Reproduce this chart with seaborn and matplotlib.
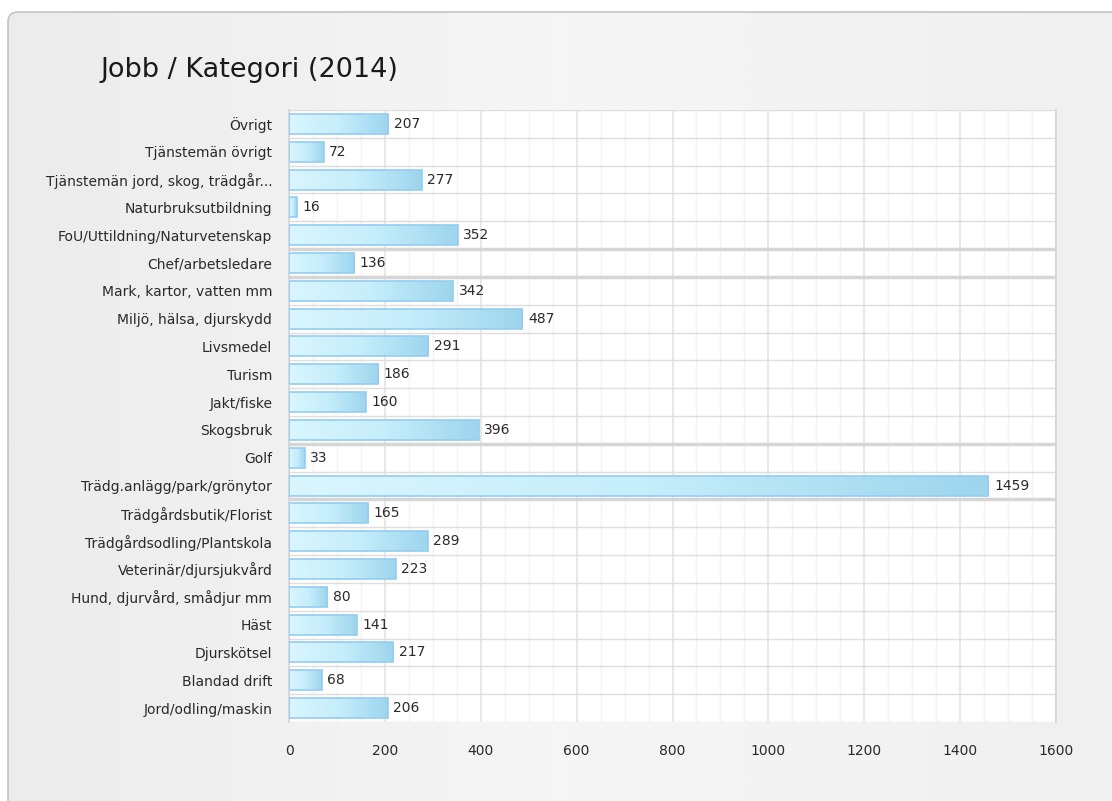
import numpy as np
import pandas as pd
import seaborn as sns
import matplotlib.pyplot as plt
from matplotlib.colors import LinearSegmentedColormap
from matplotlib.patches import FancyBboxPatch
from matplotlib.ticker import MultipleLocator

categories = [
    "Övrigt", "Tjänstemän övrigt", "Tjänstemän jord, skog, trädgår...",
    "Naturbruksutbildning", "FoU/Uttildning/Naturvetenskap", "Chef/arbetsledare",
    "Mark, kartor, vatten mm", "Miljö, hälsa, djurskydd", "Livsmedel", "Turism",
    "Jakt/fiske", "Skogsbruk", "Golf", "Trädg.anlägg/park/grönytor",
    "Trädgårdsbutik/Florist", "Trädgårdsodling/Plantskola", "Veterinär/djursjukvård",
    "Hund, djurvård, smådjur mm", "Häst", "Djurskötsel", "Blandad drift",
    "Jord/odling/maskin",
]
jobs = [207, 72, 277, 16, 352, 136, 342, 487, 291, 186, 160, 396, 33, 1459,
        165, 289, 223, 80, 141, 217, 68, 206]
x_ticks = [0, 200, 400, 600, 800, 1000, 1200, 1400, 1600]

df = pd.DataFrame({"Kategori": categories, "Antal": jobs})

sns.set_style("white")
plt.rcParams["font.family"] = ["DejaVu Sans"]

fig = plt.figure(figsize=(11.12, 8.01), dpi=100)
W, H = 1112, 801

# panel background with soft horizontal gradient
bg = fig.add_axes([0, 0, 1, 1], zorder=-10)
bg.set_axis_off()
bg.set_xlim(0, W)
bg.set_ylim(H, 0)
panel = FancyBboxPatch((8, 12), W + 20, H + 20, boxstyle="round,pad=0,rounding_size=10",
                       facecolor="none", edgecolor="#c4c4c4", linewidth=1.2)
bg.add_patch(panel)
grad = np.concatenate([np.linspace(0, 1, 300), np.linspace(1, 0.4, 300)])[None, :]
bg_cmap = LinearSegmentedColormap.from_list("bg", ["#ececec", "#f6f6f6"])
im = bg.imshow(grad, extent=[8, W, H, 12], aspect="auto", cmap=bg_cmap, zorder=0)
im.set_clip_path(panel)

fig.text(100 / W, 1 - 70 / H, "Jobb / Kategori (2014)", fontsize=19.5, color="#1a1a1a",
         va="center", ha="left")

ax = fig.add_axes([289 / W, 1 - 722 / H, (1056 - 289) / W, (722 - 110) / H])
ax.set_facecolor("white")
sns.barplot(data=df, x="Antal", y="Kategori", ax=ax, width=0.72,
            facecolor="none", edgecolor="#94cdf0", linewidth=1.2, zorder=3)

bar_cmap = LinearSegmentedColormap.from_list("bar", ["#d9f6fe", "#c6eefb", "#9dd5ed"])
gvals = np.linspace(0, 1, 256)[None, :]
for p in ax.patches:
    x0, y0, w, h = p.get_x(), p.get_y(), p.get_width(), p.get_height()
    g = ax.imshow(gvals, extent=[x0, x0 + w, y0 + h, y0], aspect="auto",
                  cmap=bar_cmap, zorder=2, interpolation="bilinear")
    g.set_clip_path(p)

ax.bar_label(ax.containers[0], padding=4, fontsize=10, color="#2a2a2a")

ax.set_xlim(0, 1600)
ax.set_ylim(len(categories) - 0.5, -0.5)
ax.set_xticks(x_ticks)
ax.xaxis.set_minor_locator(MultipleLocator(50))
ax.set_yticks(range(len(categories)))
ax.set_yticks(np.arange(len(categories) + 1) - 0.5, minor=True)

ax.grid(axis="x", which="major", color="#e6e6e6", linewidth=1.3, zorder=0)
ax.grid(axis="x", which="minor", color="#f3f3f3", linewidth=1.0, zorder=0)
ax.grid(axis="y", which="minor", color="#dedede", linewidth=1.0, zorder=0)
ax.set_axisbelow(True)
for b in [4.5, 5.5, 11.5, 13.5]:
    ax.axhline(b, color="#d6d6d6", linewidth=2.5, zorder=1)

ax.tick_params(axis="x", which="major", length=8, width=1, color="#c8c8c8",
               labelsize=10, labelcolor="#2a2a2a", pad=8)
ax.tick_params(axis="x", which="minor", length=5, width=1, color="#dcdcdc")
ax.tick_params(axis="y", which="major", length=0, labelsize=10, labelcolor="#2a2a2a", pad=12)
ax.tick_params(axis="y", which="minor", length=4, width=1, color="#dcdcdc")

for side in ["top", "bottom"]:
    ax.spines[side].set_visible(False)
for side in ["left", "right"]:
    ax.spines[side].set_color("#d4d4d4")
    ax.spines[side].set_linewidth(1.2)

ax.set_xlabel("")
ax.set_ylabel("")

plt.savefig("out.png", dpi=100)
